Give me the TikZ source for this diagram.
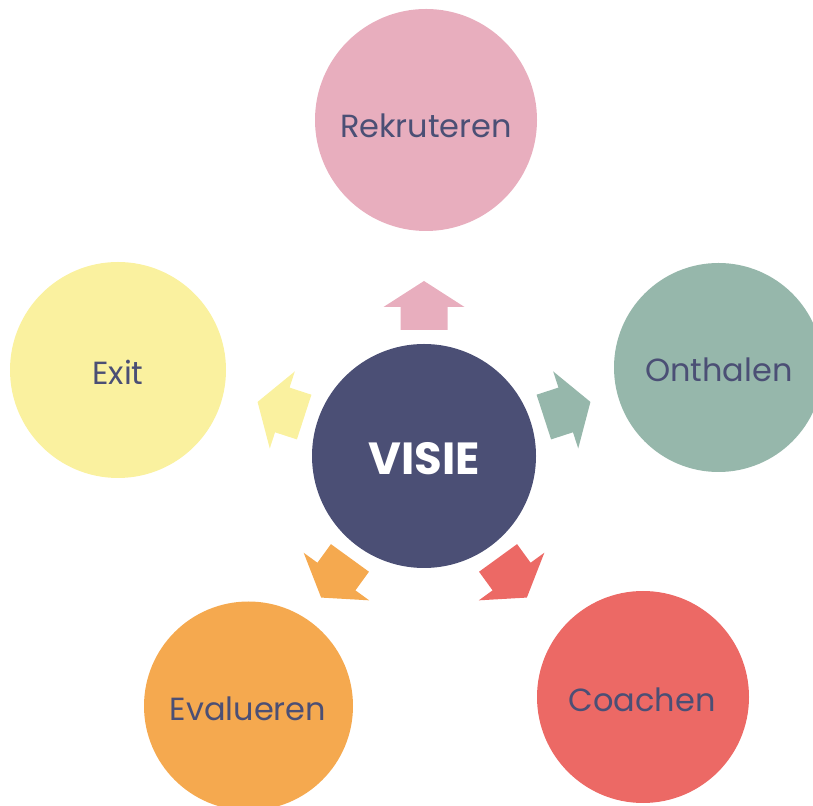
\documentclass[tikz,border=0pt]{standalone}
\usepackage{fontspec}
\setmainfont{Poppins}
\definecolor{navy}{HTML}{4B4F75}
\definecolor{cpink}{HTML}{E8AEBE}
\definecolor{cgreen}{HTML}{96B7AB}
\definecolor{cyellow}{HTML}{FAF19F}
\definecolor{corange}{HTML}{F5A94F}
\definecolor{cred}{HTML}{EC6965}
\tikzset{
  bubble/.style={circle, inner sep=0pt},
  bubbletext/.style={text=navy, font=\fontsize{32}{37}\selectfont, inner sep=0pt}
}
\begin{document}
\begin{tikzpicture}[x=1pt,y=1pt]
\useasboundingbox (0,0) rectangle (813,805);
% centre
\node[bubble, fill=navy, minimum size=224pt] (visie) at (424,349) {};
\node[text=white, font=\fontsize{45}{50}\selectfont\bfseries, inner sep=0pt] (visietxt) at (424,346) {VISIE};
% outer circles
\node[bubble, fill=cpink, minimum size=222pt] (rek) at (426,685) {};
\node[bubble, fill=cgreen, minimum size=209pt] (ont) at (718.5,437.5) {};
\node[bubble, fill=cred, minimum size=212pt] (coa) at (643,108) {};
\node[bubble, fill=corange, minimum size=209pt] (eva) at (248.5,99) {};
\node[bubble, fill=cyellow, minimum size=216pt] (exi) at (118,435) {};
\node[bubbletext] (rektxt) at (426,679) {Rekruteren};
\node[bubbletext] (onttxt) at (719,435) {Onthalen};
\node[bubbletext] (coatxt) at (642,105) {Coachen};
\node[bubbletext] (evatxt) at (248,96) {Evalueren};
\node[bubbletext] (exitxt) at (118,433) {Exit};
% arrows
\foreach \ang/\col in {0/cpink, -72/cgreen, -144/cred, 144/corange, 72/cyellow}{
  \fill[\col, shift={(visie.center)}, rotate=\ang]
    (-23.5pt,126pt) -- (-23.5pt,149pt) -- (-40.5pt,149pt) -- (0pt,175pt)
    -- (40.5pt,149pt) -- (23.5pt,149pt) -- (23.5pt,126pt) -- cycle;
}
\end{tikzpicture}
\end{document}
